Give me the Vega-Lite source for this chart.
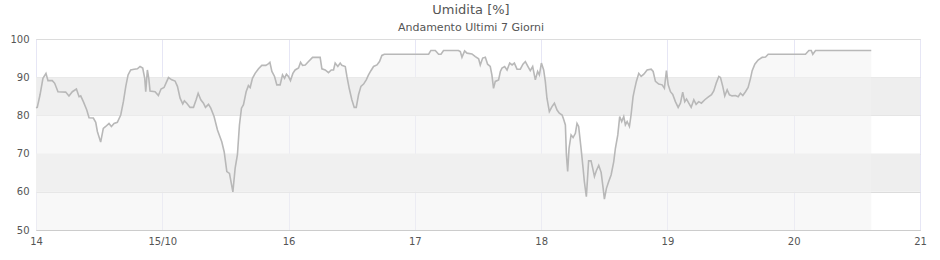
{
  "$schema": "https://vega.github.io/schema/vega-lite/v6.json",
  "width": 884,
  "height": 191,
  "autosize": "none",
  "padding": {"left": 36, "top": 39, "right": 20, "bottom": 30},
  "background": "white",
  "title": {
    "text": "Umidita [%]",
    "subtitle": "Andamento Ultimi 7 Giorni",
    "font": "DejaVu Sans",
    "fontSize": 13,
    "fontWeight": "normal",
    "color": "#555555",
    "subtitleFont": "DejaVu Sans",
    "subtitleFontSize": 11,
    "subtitleColor": "#555555",
    "anchor": "middle",
    "dx": -7,
    "offset": 1,
    "subtitlePadding": 5
  },
  "config": {
    "view": {"stroke": "#d8d8d8"},
    "axis": {
      "labelFont": "DejaVu Sans",
      "labelFontSize": 10,
      "labelColor": "#555555",
      "ticks": false,
      "title": null,
      "zindex": 1,
      "labelOverlap": false
    },
    "axisY": {
      "values": [50, 60, 70, 80, 90, 100],
      "grid": true,
      "gridColor": "#dcdcdc",
      "domain": false,
      "labelPadding": 7,
      "labelOverlap": false,
      "tickCount": 6
    },
    "axisX": {
      "grid": true,
      "gridColor": "#e6e6f5",
      "domain": true,
      "domainColor": "#cccccc",
      "labelPadding": 6,
      "labelOverlap": false,
      "labelFlush": false
    }
  },
  "datasets": {
    "hum": [
      {"t":14.000,"v":82},{"t":14.010,"v":82.1},{"t":14.032,"v":85.4},{"t":14.055,"v":89.7},{"t":14.079,"v":91.0},{"t":14.095,"v":89.1},{"t":14.129,"v":89.1},{"t":14.148,"v":88.4},{"t":14.174,"v":86.2},{"t":14.235,"v":86.1},{"t":14.261,"v":85.1},{"t":14.288,"v":86.2},{"t":14.320,"v":86.9},{"t":14.341,"v":84.9},{"t":14.354,"v":85.1},{"t":14.375,"v":83.6},{"t":14.402,"v":81.4},{"t":14.420,"v":79.4},{"t":14.454,"v":79.3},{"t":14.473,"v":78.2},{"t":14.486,"v":75.8},{"t":14.512,"v":73.0},{"t":14.533,"v":76.6},{"t":14.552,"v":77.1},{"t":14.578,"v":77.9},{"t":14.597,"v":77.1},{"t":14.618,"v":77.9},{"t":14.644,"v":78.2},{"t":14.671,"v":80.1},{"t":14.692,"v":83.6},{"t":14.711,"v":87.6},{"t":14.729,"v":90.6},{"t":14.750,"v":91.9},{"t":14.777,"v":92.1},{"t":14.803,"v":92.2},{"t":14.824,"v":92.8},
      {"t":14.845,"v":92.4},{"t":14.861,"v":89.7},{"t":14.869,"v":86.2},{"t":14.882,"v":91.9},{"t":14.893,"v":89.7},{"t":14.903,"v":86.4},{"t":14.943,"v":86.2},{"t":14.969,"v":85.2},{"t":14.990,"v":86.9},{"t":15.014,"v":87.3},{"t":15.049,"v":89.9},{"t":15.075,"v":89.3},{"t":15.101,"v":89.0},{"t":15.120,"v":87.6},{"t":15.141,"v":84.5},{"t":15.162,"v":83.0},{"t":15.175,"v":83.8},{"t":15.194,"v":83.2},{"t":15.220,"v":82.1},{"t":15.247,"v":82.1},{"t":15.268,"v":84.1},{"t":15.284,"v":85.8},{"t":15.305,"v":84.1},{"t":15.326,"v":83.2},{"t":15.342,"v":82.1},{"t":15.366,"v":82.9},{"t":15.384,"v":81.9},{"t":15.410,"v":79.7},{"t":15.437,"v":76.2},{"t":15.471,"v":73.1},{"t":15.490,"v":70.5},{"t":15.511,"v":65.3},{"t":15.532,"v":64.8},{"t":15.559,"v":60.0},{"t":15.577,"v":66.2},{"t":15.595,"v":69.7},{"t":15.611,"v":77.5},{"t":15.627,"v":81.9},{"t":15.643,"v":82.8},{"t":15.664,"v":86.2},{"t":15.682,"v":87.8},{"t":15.696,"v":87.3},
      {"t":15.714,"v":89.7},{"t":15.735,"v":91.0},{"t":15.762,"v":92.2},{"t":15.788,"v":93.1},{"t":15.820,"v":93.1},{"t":15.836,"v":93.4},{"t":15.852,"v":93.9},{"t":15.868,"v":91.5},{"t":15.889,"v":90.2},{"t":15.907,"v":88.0},{"t":15.933,"v":88.0},{"t":15.952,"v":90.6},{"t":15.968,"v":89.7},{"t":15.983,"v":90.8},{"t":15.999,"v":90.2},{"t":16.015,"v":89.1},{"t":16.034,"v":91.0},{"t":16.052,"v":91.9},{"t":16.079,"v":92.4},{"t":16.095,"v":93.9},{"t":16.111,"v":93.1},{"t":16.132,"v":93.2},{"t":16.158,"v":94.1},{"t":16.190,"v":95.2},{"t":16.250,"v":95.2},{"t":16.264,"v":92.2},{"t":16.290,"v":91.9},{"t":16.316,"v":91.2},{"t":16.338,"v":91.9},{"t":16.356,"v":91.9},{"t":16.369,"v":93.7},{"t":16.390,"v":92.8},{"t":16.409,"v":93.7},{"t":16.422,"v":93.1},{"t":16.449,"v":92.8},{"t":16.462,"v":90.2},{"t":16.480,"v":87.1},{"t":16.501,"v":84.1},
      {"t":16.520,"v":82.1},{"t":16.536,"v":82.1},{"t":16.554,"v":85.4},{"t":16.573,"v":87.6},{"t":16.594,"v":88.2},{"t":16.615,"v":89.3},{"t":16.633,"v":90.6},{"t":16.652,"v":91.7},{"t":16.673,"v":92.8},{"t":16.700,"v":93.2},{"t":16.720,"v":94.1},{"t":16.739,"v":95.7},{"t":16.758,"v":96},{"t":17.109,"v":96},{"t":17.127,"v":97},{"t":17.162,"v":97},{"t":17.188,"v":96},{"t":17.207,"v":96},{"t":17.227,"v":97},{"t":17.345,"v":97},
      {"t":17.360,"v":96.7},{"t":17.373,"v":95.2},{"t":17.394,"v":96.9},{"t":17.413,"v":96.3},{"t":17.452,"v":96.1},{"t":17.479,"v":95.4},{"t":17.505,"v":94.8},{"t":17.518,"v":93.2},{"t":17.537,"v":95.0},{"t":17.558,"v":95.2},{"t":17.576,"v":93.4},{"t":17.597,"v":92.8},{"t":17.610,"v":90.6},{"t":17.623,"v":87.1},{"t":17.637,"v":88.9},{"t":17.663,"v":89.3},{"t":17.677,"v":91.5},{"t":17.690,"v":92.4},{"t":17.711,"v":92.8},{"t":17.730,"v":91.9},{"t":17.751,"v":93.7},{"t":17.770,"v":93.2},{"t":17.788,"v":93.7},{"t":17.809,"v":92.1},{"t":17.835,"v":92.1},{"t":17.856,"v":93.4},{"t":17.875,"v":94.1},{"t":17.896,"v":92.8},{"t":17.914,"v":91.7},{"t":17.933,"v":92.8},{"t":17.954,"v":89.3},{"t":17.972,"v":91.5},{"t":17.986,"v":90.6},{"t":18.002,"v":93.7},{"t":18.020,"v":91.9},{"t":18.033,"v":88.9},{"t":18.046,"v":84.5},{"t":18.065,"v":81.0},{"t":18.086,"v":82.3},{"t":18.105,"v":83.2},{"t":18.126,"v":81.4},{"t":18.144,"v":80.6},{"t":18.166,"v":80.1},
      {"t":18.178,"v":79.0},{"t":18.192,"v":77.5},{"t":18.200,"v":69.7},{"t":18.210,"v":65.3},{"t":18.221,"v":71.4},{"t":18.237,"v":74.9},{"t":18.253,"v":74.2},{"t":18.271,"v":75.3},{"t":18.284,"v":77.9},{"t":18.297,"v":77.1},{"t":18.316,"v":71.4},{"t":18.332,"v":66.2},{"t":18.342,"v":62.7},{"t":18.358,"v":58.7},{"t":18.369,"v":64.4},{"t":18.376,"v":68.1},{"t":18.395,"v":68.1},{"t":18.408,"v":66.2},{"t":18.422,"v":64.0},{"t":18.437,"v":65.5},{"t":18.456,"v":66.9},{"t":18.475,"v":65.1},{"t":18.491,"v":60.9},{"t":18.501,"v":58.1},{"t":18.517,"v":60.9},{"t":18.535,"v":62.7},{"t":18.554,"v":64.4},{"t":18.575,"v":67.9},{"t":18.588,"v":71.4},{"t":18.607,"v":74.9},{"t":18.622,"v":79.7},{"t":18.638,"v":78.4},{"t":18.654,"v":79.7},{"t":18.667,"v":77.5},{"t":18.681,"v":78.4},{"t":18.699,"v":77.1},{"t":18.712,"v":80.1},{"t":18.728,"v":84.9},{"t":18.739,"v":86.7},{"t":18.754,"v":88.9},{"t":18.773,"v":91.0},{"t":18.792,"v":90.2},{"t":18.813,"v":90.8},{"t":18.839,"v":91.9},{"t":18.871,"v":92.1},{"t":18.887,"v":91.5},{"t":18.905,"v":88.9},{"t":18.931,"v":88.2},{"t":18.958,"v":88.0},{"t":18.976,"v":87.1},{"t":18.992,"v":91.7},{"t":19.006,"v":88.0},
      {"t":19.024,"v":86.2},{"t":19.042,"v":85.5},{"t":19.063,"v":83.6},{"t":19.085,"v":82.1},{"t":19.103,"v":83.2},{"t":19.121,"v":86.1},{"t":19.137,"v":83.6},{"t":19.151,"v":84.3},{"t":19.169,"v":83.2},{"t":19.188,"v":82.1},{"t":19.209,"v":84.1},{"t":19.227,"v":82.9},{"t":19.248,"v":83.6},{"t":19.269,"v":83.2},{"t":19.296,"v":84.1},{"t":19.322,"v":84.8},{"t":19.349,"v":85.4},{"t":19.367,"v":86.4},{"t":19.386,"v":88.4},{"t":19.407,"v":90.2},{"t":19.420,"v":89.9},{"t":19.438,"v":87.6},{"t":19.454,"v":85.1},{"t":19.473,"v":86.7},{"t":19.491,"v":85.4},{"t":19.512,"v":85.1},{"t":19.539,"v":85.2},{"t":19.560,"v":84.9},{"t":19.578,"v":85.8},{"t":19.597,"v":85.2},{"t":19.618,"v":86.2},{"t":19.639,"v":87.3},{"t":19.658,"v":89.7},{"t":19.671,"v":91.7},{"t":19.692,"v":93.4},{"t":19.718,"v":94.5},{"t":19.750,"v":95.2},{"t":19.777,"v":95.3},{"t":19.798,"v":96},{"t":20.093,"v":96},{"t":20.120,"v":97},{"t":20.139,"v":97},{"t":20.151,"v":96},{"t":20.173,"v":97},{"t":20.614,"v":97}
    ]
  },
  "layer": [
    {
      "data": {"values": [{"lo": 60, "hi": 70}, {"lo": 80, "hi": 90}]},
      "mark": {"type": "rect", "color": "#eeeeee"},
      "encoding": {
        "y": {
          "field": "lo",
          "type": "quantitative",
          "scale": {"domain": [50, 100], "nice": false, "zero": false}
        },
        "y2": {"field": "hi"}
      }
    },
    {
      "data": {"name": "hum"},
      "mark": {"type": "area", "color": "#f2f2f2", "opacity": 0.5},
      "encoding": {
        "x": {
          "field": "t",
          "type": "quantitative",
          "scale": {"domain": [14, 21], "nice": false, "zero": false},
          "axis": {
            "values": [14, 15, 16, 17, 18, 19, 20, 21],
            "labelFlush": false,
            "labelExpr": "datum.value == 15 ? '15/10' : format(datum.value, 'd')"
          }
        },
        "y": {"field": "v", "type": "quantitative"},
        "y2": {"datum": 50}
      }
    },
    {
      "data": {"name": "hum"},
      "mark": {"type": "line", "color": "#b8b8b8", "strokeWidth": 1.6},
      "encoding": {
        "x": {
          "field": "t",
          "type": "quantitative",
          "axis": {
            "values": [14, 15, 16, 17, 18, 19, 20, 21],
            "labelFlush": false,
            "labelExpr": "datum.value == 15 ? '15/10' : format(datum.value, 'd')"
          }
        },
        "y": {"field": "v", "type": "quantitative"}
      }
    }
  ]
}
